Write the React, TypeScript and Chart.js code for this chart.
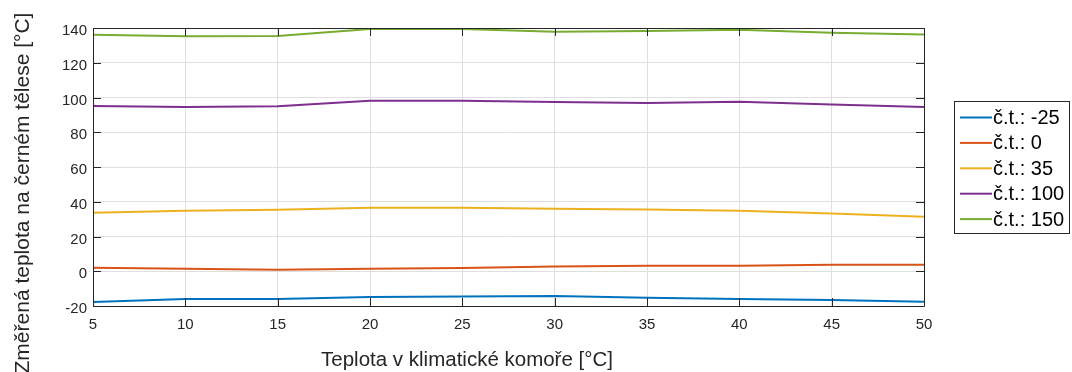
import React, { useEffect, useRef } from "react";
import { Chart, registerables } from "chart.js";

Chart.register(...registerables);

// Teplota v klimatické komoře [°C]
const chamberTemps = [5, 10, 15, 20, 25, 30, 35, 40, 45, 50];

// Změřená teplota na černém tělese pro jednotlivá nastavení černého tělesa
const ctMinus25 = [-17.7, -16.0, -16.0, -14.8, -14.6, -14.3, -15.3, -16.0, -16.6, -17.5];
const ct0 = [2.0, 1.4, 0.9, 1.4, 1.8, 2.8, 3.2, 3.2, 3.7, 3.7];
const ct35 = [33.7, 34.8, 35.4, 36.5, 36.5, 35.9, 35.5, 34.8, 33.2, 31.3];
const ct100 = [95.1, 94.6, 94.9, 98.2, 98.2, 97.4, 96.8, 97.6, 95.9, 94.5];
const ct150 = [136.1, 135.3, 135.4, 139.4, 139.4, 137.9, 138.3, 139.0, 137.3, 136.3];

const seriesLabels = ["č.t.: -25", "č.t.: 0", "č.t.: 35", "č.t.: 100", "č.t.: 150"];
const seriesValues = [ctMinus25, ct0, ct35, ct100, ct150];
const seriesColors = ["#0072BD", "#D95319", "#EDB120", "#7E2F8E", "#77AC30"];

const xTickValues = [5, 10, 15, 20, 25, 30, 35, 40, 45, 50];
const yTickValues = [-20, 0, 20, 40, 60, 80, 100, 120, 140];

const xTitle = "Teplota v klimatické komoře [°C]";
const yTitle = "Změřená teplota na černém tělese [°C]";

const FONT = "'Liberation Sans', Arial, Helvetica, sans-serif";
const AXIS_COLOR = "#262626";

// Boxed axes with inward ticks, axis titles and a framed legend
const boxedAxesPlugin = {
  id: "boxedAxes",
  afterDraw(chart: any) {
    const { ctx, chartArea } = chart;
    const { left, right, top, bottom } = chartArea;
    const xs = chart.scales.x;
    const ys = chart.scales.y;
    const tickLen = 8;

    ctx.save();
    ctx.strokeStyle = AXIS_COLOR;
    ctx.lineWidth = 1;
    ctx.beginPath();
    ctx.rect(Math.round(left) + 0.5, Math.round(top) + 0.5, Math.round(right - left), Math.round(bottom - top));
    ctx.stroke();

    ctx.beginPath();
    xTickValues.forEach((v) => {
      const px = Math.round(xs.getPixelForValue(v)) + 0.5;
      ctx.moveTo(px, bottom);
      ctx.lineTo(px, bottom - tickLen);
      ctx.moveTo(px, top);
      ctx.lineTo(px, top + tickLen);
    });
    yTickValues.forEach((v) => {
      const py = Math.round(ys.getPixelForValue(v)) + 0.5;
      ctx.moveTo(left, py);
      ctx.lineTo(left + tickLen, py);
      ctx.moveTo(right, py);
      ctx.lineTo(right - tickLen, py);
    });
    ctx.stroke();

    // axis titles
    ctx.fillStyle = AXIS_COLOR;
    ctx.font = `20.5px ${FONT}`;
    ctx.textAlign = "center";
    ctx.textBaseline = "alphabetic";
    ctx.fillText(xTitle, 467, 366);

    ctx.save();
    ctx.translate(29, 193);
    ctx.rotate(-Math.PI / 2);
    ctx.font = `21px ${FONT}`;
    ctx.fillText(yTitle, 0, 0);
    ctx.restore();

    // legend
    const lx = 954.5;
    const ly = 101.5;
    const lw = 115;
    const lh = 132;
    ctx.fillStyle = "#ffffff";
    ctx.fillRect(lx, ly, lw, lh);
    ctx.strokeStyle = "#262626";
    ctx.lineWidth = 1;
    ctx.strokeRect(lx, ly, lw, lh);
    ctx.font = `20px ${FONT}`;
    ctx.textAlign = "left";
    ctx.textBaseline = "middle";
    chart.data.datasets.forEach((ds: any, i: number) => {
      const cy = 117.5 + i * 25.4;
      ctx.strokeStyle = ds.borderColor;
      ctx.lineWidth = 2;
      ctx.beginPath();
      ctx.moveTo(960, cy);
      ctx.lineTo(992, cy);
      ctx.stroke();
      ctx.fillStyle = "#000000";
      ctx.fillText(ds.label, 993, cy + 1);
    });
    ctx.restore();
  },
};

export default function App() {
  const canvasRef = useRef<HTMLCanvasElement | null>(null);

  useEffect(() => {
    const canvas = canvasRef.current;
    if (!canvas) return;

    const datasets = seriesLabels.map((label, i) => ({
      label,
      data: chamberTemps.map((t, j) => ({ x: t, y: seriesValues[i][j] })),
      borderColor: seriesColors[i],
      backgroundColor: seriesColors[i],
      borderWidth: 2,
      pointRadius: 0,
      tension: 0,
      fill: false,
    }));

    const chart = new Chart(canvas, {
      type: "line",
      data: { datasets },
      plugins: [boxedAxesPlugin],
      options: {
        animation: false,
        responsive: false,
        devicePixelRatio: 1,
        layout: { padding: { left: 0, right: 148, top: 28, bottom: 0 } },
        plugins: {
          legend: { display: false },
          tooltip: { enabled: false },
        },
        scales: {
          x: {
            type: "linear",
            min: 5,
            max: 50,
            afterFit: (scale: any) => {
              scale.height = 66;
            },
            afterBuildTicks: (scale: any) => {
              scale.ticks = xTickValues.map((v) => ({ value: v }));
            },
            ticks: {
              color: AXIS_COLOR,
              font: { family: FONT, size: 15 },
              padding: 10,
              maxRotation: 0,
              autoSkip: false,
            },
            grid: { color: "#dfdfdf", lineWidth: 1, drawTicks: false },
            border: { display: false },
          },
          y: {
            type: "linear",
            min: -20,
            max: 140,
            afterFit: (scale: any) => {
              scale.width = 93;
            },
            afterBuildTicks: (scale: any) => {
              scale.ticks = yTickValues.map((v) => ({ value: v }));
            },
            ticks: {
              color: AXIS_COLOR,
              font: { family: FONT, size: 15 },
              padding: 6,
              labelOffset: 3,
              autoSkip: false,
            },
            grid: { color: "#dfdfdf", lineWidth: 1, drawTicks: false },
            border: { display: false },
          },
        },
      },
    });

    return () => chart.destroy();
  }, []);

  return (
    <div style={{ position: "fixed", left: 0, top: 0, width: 1072, height: 372, background: "#ffffff" }}>
      <canvas ref={canvasRef} width={1072} height={372} style={{ width: 1072, height: 372, display: "block" }} />
    </div>
  );
}
